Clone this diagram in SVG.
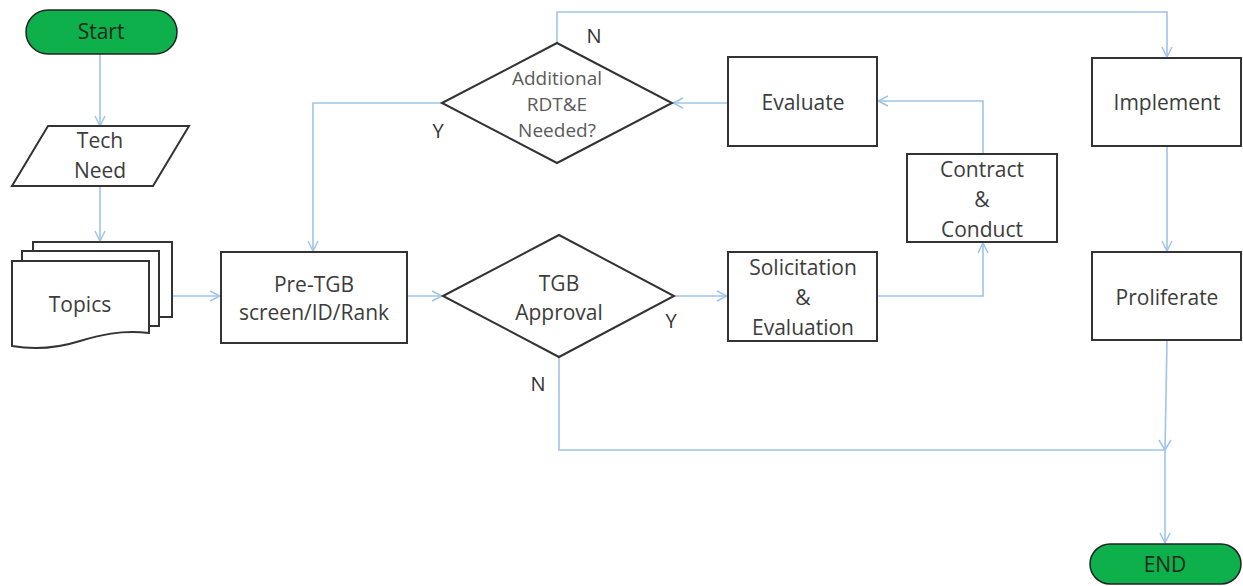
<svg xmlns="http://www.w3.org/2000/svg" width="1243" height="586" viewBox="0 0 1243 586">
<style>
.n{fill:#fff;stroke:#333;stroke-width:2}
.term{fill:#0db04b;stroke:#222;stroke-width:1.5}
.t{font-family:"Open Sans","Liberation Sans",sans-serif;font-size:21px;fill:#3c3c3c;text-anchor:middle}
.ts{font-family:"Open Sans","Liberation Sans",sans-serif;font-size:19px;fill:#5a5a5a;text-anchor:middle}
.tt{font-family:"Open Sans","Liberation Sans",sans-serif;font-size:21px;fill:#1d2b1d;text-anchor:middle}
.l{font-family:"Open Sans","Liberation Sans",sans-serif;font-size:20px;fill:#333;text-anchor:middle}
.c{fill:none;stroke:#9fc4e8;stroke-width:1.6}
</style>
<defs>
<marker id="a" viewBox="0 0 12 12" refX="11" refY="6" markerWidth="12" markerHeight="12" markerUnits="userSpaceOnUse" orient="auto">
<polyline points="1,1 11,6 1,11" fill="none" stroke="#9fc4e8" stroke-width="1.5"/>
</marker>
</defs>
<rect width="1243" height="586" fill="#fff"/>
<g id="connectors">
<path class="c" d="M100,54 V126" marker-end="url(#a)"/>
<path class="c" d="M100,186 V241" marker-end="url(#a)"/>
<path class="c" d="M172,296 H220" marker-end="url(#a)"/>
<path class="c" d="M407,296 H442" marker-end="url(#a)"/>
<path class="c" d="M674,296 H727" marker-end="url(#a)"/>
<path class="c" d="M877,296 H983 V243" marker-end="url(#a)"/>
<path class="c" d="M983,154 V101 H878" marker-end="url(#a)"/>
<path class="c" d="M728,103 H673" marker-end="url(#a)"/>
<path class="c" d="M442,103 H313 V251" marker-end="url(#a)"/>
<path class="c" d="M557,43 V12 H1167 V57" marker-end="url(#a)"/>
<path class="c" d="M1167,146 V251" marker-end="url(#a)"/>
<path class="c" d="M1167,340 L1165,450 V543" marker-end="url(#a)"/>
<path class="c" d="M559,357 V450 H1165" />
<path class="c" d="M1159,440 L1165,450 L1171,440" />
</g>
<g id="start">
<rect class="term" x="26" y="10" width="151" height="44" rx="22"/>
<text class="tt" x="101" y="39">Start</text>
</g>
<g id="tech-need">
<polygon class="n" points="48,126 189,126 153,186 12,186"/>
<text class="t" x="100" y="148">Tech</text>
<text class="t" x="100" y="178">Need</text>
</g>
<g id="topics">
<rect class="n" x="33" y="242" width="139" height="75"/>
<rect class="n" x="22" y="251" width="137" height="75"/>
<path class="n" d="M12,261 H149 V333 C120,330 100,335 80,341 C58,348 35,350 12,346 Z"/>
<text class="t" x="80" y="312">Topics</text>
</g>
<g id="pre-tgb">
<rect class="n" x="221" y="252" width="186" height="91"/>
<text class="t" x="314" y="292">Pre-TGB</text>
<text class="t" x="314" y="320">screen/ID/Rank</text>
</g>
<g id="tgb-approval">
<polygon class="n" points="443,296 559,235 674,296 559,357"/>
<text class="t" x="559" y="291">TGB</text>
<text class="t" x="559" y="320">Approval</text>
</g>
<g id="solicitation">
<rect class="n" x="728" y="252" width="149" height="89"/>
<text class="t" x="803" y="275">Solicitation</text>
<text class="t" x="803" y="305">&amp;</text>
<text class="t" x="803" y="335">Evaluation</text>
</g>
<g id="contract">
<rect class="n" x="907" y="154" width="150" height="88"/>
<text class="t" x="982" y="177">Contract</text>
<text class="t" x="982" y="207">&amp;</text>
<text class="t" x="982" y="237">Conduct</text>
</g>
<g id="evaluate">
<rect class="n" x="728" y="57" width="149" height="89"/>
<text class="t" x="803" y="110">Evaluate</text>
</g>
<g id="additional">
<polygon class="n" points="442,103 557,43 672,103 557,163"/>
<text class="ts" x="557" y="85">Additional</text>
<text class="ts" x="557" y="111">RDT&amp;E</text>
<text class="ts" x="557" y="137">Needed?</text>
</g>
<g id="implement">
<rect class="n" x="1092" y="58" width="149" height="88"/>
<text class="t" x="1167" y="110">Implement</text>
</g>
<g id="proliferate">
<rect class="n" x="1092" y="252" width="149" height="88"/>
<text class="t" x="1167" y="305">Proliferate</text>
</g>
<g id="end">
<rect class="term" x="1090" y="544" width="151" height="40" rx="20"/>
<text class="tt" x="1165" y="572">END</text>
</g>
<g id="labels">
<text class="l" x="594" y="43">N</text>
<text class="l" x="438" y="138">Y</text>
<text class="l" x="671" y="328">Y</text>
<text class="l" x="538" y="391">N</text>
</g>
</svg>
